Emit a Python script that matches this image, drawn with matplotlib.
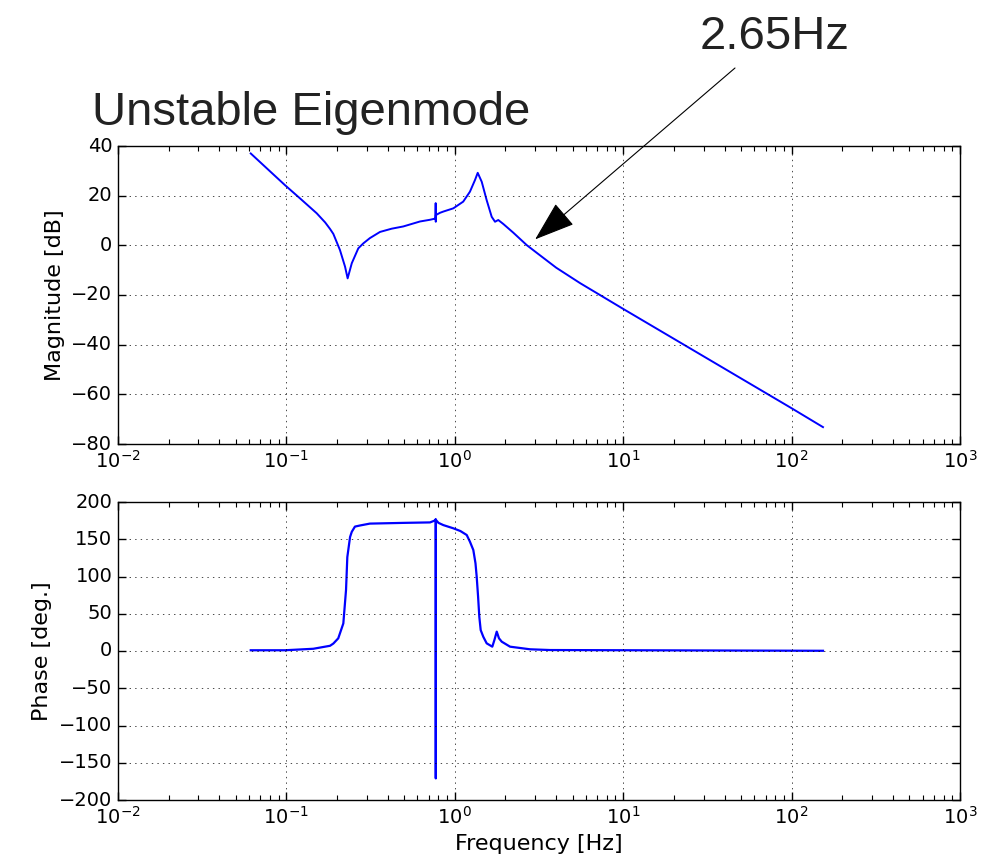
import matplotlib
matplotlib.use("Agg")
import matplotlib.pyplot as plt
from matplotlib.ticker import LogLocator, NullFormatter

# ---- 读图数据:幅频 ----
mag_freq = [0.0614, 0.0982, 0.1205, 0.1514, 0.1700, 0.1816, 0.190, 0.208, 0.223,
            0.231, 0.2445, 0.2673, 0.2864, 0.313, 0.3597, 0.4217, 0.4943, 0.621,
            0.713, 0.768, 0.770, 0.771, 0.772, 0.817, 0.855, 0.980, 1.122, 1.230,
            1.318, 1.368, 1.445, 1.546, 1.656, 1.733, 1.812, 1.941, 2.225, 2.673,
            3.064, 4.0, 5.54, 10.0, 100.0, 153.6]
mag_db = [37.0, 24.2, 18.9, 12.9, 9.2, 6.6, 4.6, -1.9, -8.6,
          -13.3, -7.2, -1.2, 0.8, 2.9, 5.4, 6.7, 7.6, 9.6,
          10.3, 10.8, 17.0, 9.5, 12.2, 13.1, 13.6, 14.9, 17.6, 21.6,
          26.3, 29.2, 25.6, 18.2, 11.5, 9.5, 10.2, 8.6, 5.1, 0.1,
          -3.0, -9.0, -15.2, -25.6, -65.6, -73.2]

# ---- 读图数据:相频 ----
ph_freq = [0.0614, 0.0982, 0.1445, 0.1816, 0.190, 0.2032, 0.2178, 0.226, 0.230,
           0.2388, 0.2445, 0.2553, 0.274, 0.313, 0.50, 0.713, 0.768, 0.770,
           0.771, 0.772, 0.80, 0.855, 0.980, 1.08, 1.177, 1.230, 1.288, 1.327,
           1.349, 1.375, 1.398, 1.425, 1.477, 1.546, 1.670, 1.72, 1.774, 1.83,
           1.900, 2.128, 2.797, 3.673, 153.6]
ph_deg = [1.0, 1.0, 3.0, 7.0, 10.0, 17.0, 37.0, 82.0, 126.0,
          153.0, 160.0, 167.0, 168.5, 171.0, 172.0, 172.6, 175.5, 177.0,
          -171.0, 176.0, 172.0, 169.0, 164.7, 161.0, 155.7, 146.7, 135.6, 117.7,
          99.7, 72.9, 46.0, 28.0, 19.0, 10.3, 5.8, 15.0, 26.0, 17.0,
          12.5, 5.8, 2.3, 1.3, 0.3]

XLIM = (1e-2, 1e3)

plt.style.use("classic")
plt.rcParams["figure.facecolor"] = "white"
plt.rcParams["savefig.facecolor"] = "white"
plt.rcParams["mathtext.fontset"] = "dejavusans"
plt.rcParams["font.family"] = ["DejaVu Sans"]
plt.rcParams["xtick.labelsize"] = 14
plt.rcParams["ytick.labelsize"] = 14
plt.rcParams["axes.labelsize"] = 16

fig = plt.figure(figsize=(9.96, 8.68), dpi=100)
W, H = 996.0, 868.0
ax1 = fig.add_axes([118 / W, 1 - 444 / H, 842 / W, 298 / H])
ax2 = fig.add_axes([118 / W, 1 - 800 / H, 842 / W, 298 / H])

ax1.semilogx(mag_freq, mag_db, "b-", lw=1.4)
ax1.set_ylim(-80, 40)
ax1.set_ylabel("Magnitude [dB]")

ax2.semilogx(ph_freq, ph_deg, "b-", lw=1.6)
ax2.set_ylim(-200, 200)
ax2.set_ylabel("Phase [deg.]")
ax2.set_xlabel("Frequency [Hz]")

for ax in (ax1, ax2):
    ax.set_xlim(*XLIM)
    ax.xaxis.set_major_locator(LogLocator(base=10, numticks=20))
    ax.xaxis.set_minor_locator(LogLocator(base=10, subs=[2, 3, 4, 5, 6, 7, 8, 9],
                                          numticks=100))
    ax.xaxis.set_minor_formatter(NullFormatter())
    ax.tick_params(which="major", direction="in", length=6, width=1,
                   top=True, right=True)
    ax.tick_params(axis="x", which="minor", direction="in", length=3.5, width=0.8,
                   top=True, bottom=True)
    ax.grid(True, which="major")

fig.text(92 / W, 1 - 125 / H, "Unstable Eigenmode", fontsize=34,
         family="Liberation Sans", color="#222222", va="baseline")
fig.text(700 / W, 1 - 49 / H, "2.65Hz", fontsize=34,
         family="Liberation Sans", color="#222222", va="baseline")
ax1.annotate("", xy=(3.0, 2.4), xycoords="data",
             xytext=(735 / W, 1 - 68 / H), textcoords="figure fraction",
             arrowprops=dict(arrowstyle="-|>,head_length=1.3,head_width=0.45",
                             mutation_scale=20, lw=0.8, color="k",
                             shrinkA=0, shrinkB=0))

fig.savefig("out.png", dpi=100)
